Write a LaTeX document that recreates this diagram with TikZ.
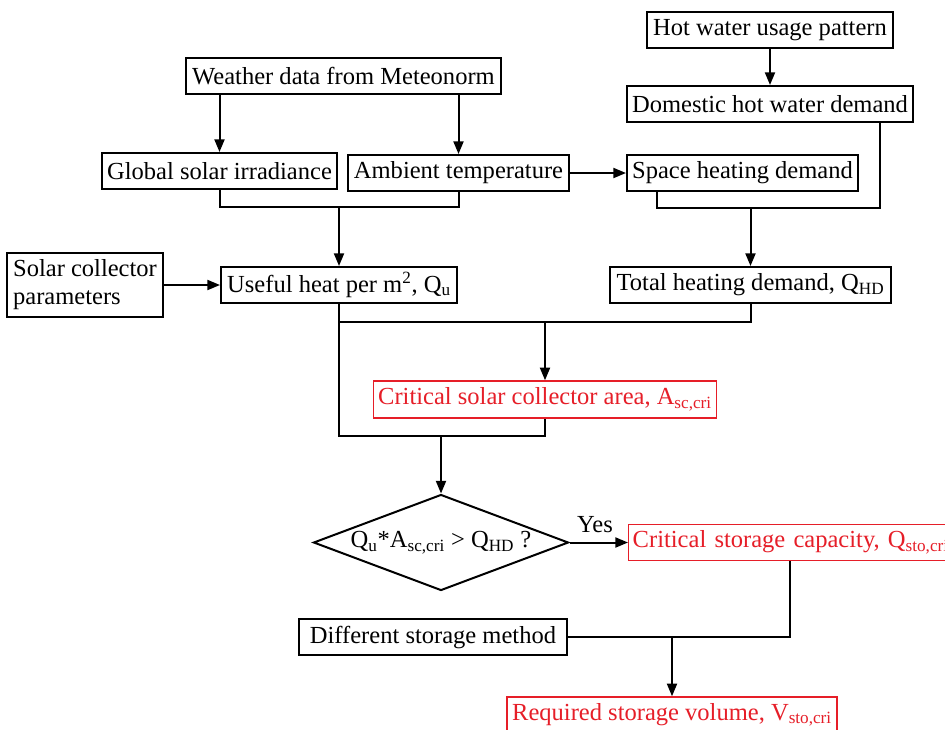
\documentclass[tikz,border=0pt]{standalone}
\usepackage{fontspec}
\setmainfont{Liberation Serif}
\usetikzlibrary{arrows.meta,shapes.geometric}
\definecolor{cred}{RGB}{230,30,40}
\begin{document}
\begin{tikzpicture}[x=0.75pt,y=-0.75pt,
  font=\fontsize{18.4}{21}\selectfont,
  wh/.style 2 args={minimum width=#1*0.75pt, minimum height=#2*0.75pt},
  box/.style={draw=black, line width=1.5pt, inner sep=0pt, rectangle},
  rbox/.style={draw=cred, text=cred, line width=1.1pt, inner sep=0pt, rectangle},
  line/.style={line width=1.5pt},
  arr/.style={line, -{Triangle[length=9.5pt,width=7.5pt]}},
]
\clip (0,0) rectangle (945,729);
\fill[white] (0,0) rectangle (945,729);

\node[box, wh={246}{36}] (hot) at (770,30) {Hot water usage pattern};
\node[box, wh={286}{36}] (dom) at (770,104) {Domestic hot water demand};
\node[box, wh={315}{36}] (wea) at (343.5,76) {Weather data from Meteonorm};
\node[box, wh={235}{36}] (glo) at (219.5,171) {Global solar irradiance};
\node[box, wh={221}{36}] (amb) at (458.5,173) {Ambient temperature};
\node[box, wh={231}{36}] (spa) at (742.5,173) {Space heating demand};
\node[box, wh={156}{64}, align=left] (sol) at (85,285) {Solar collector\\parameters};
\node[box, wh={236}{36}] (use) at (339,285) {Useful heat per m\textsuperscript{2}, Q\textsubscript{u}};
\node[box, wh={281}{36}] (tot) at (750.5,285) {Total heating demand, Q\textsubscript{HD}};
\node[rbox, wh={343}{37}] (csa) at (545,399.5) {Critical solar collector area, A\textsubscript{sc,cri}};
\node[draw, diamond, line width=1.5pt, inner sep=0pt, wh={255}{96},
  label=center:{Q\textsubscript{u}*A\textsubscript{sc,cri} > Q\textsubscript{HD} ?}] (dia) at (441,542.5) {};
\node[rbox, anchor=west, minimum height=36*0.75pt, inner xsep=3pt,
  text width=320*0.75pt, align=left] (cst) at (628,542.5) {Critical storage capacity, Q\textsubscript{sto,cri}};
\node[box, wh={268}{36}] (dif) at (433,637) {Different storage method};
\node[rbox, wh={330}{36}] (req) at (672,715) {Required storage volume, V\textsubscript{sto,cri}};
\node (yes) at (595,525) {Yes};

\coordinate (j1) at (339,207);
\coordinate (sx) at (657,0);
\coordinate (dx) at (880,0);
\coordinate (j2) at (750.5,208);
\coordinate (j3) at (545,322);
\coordinate (j4) at (441,436);
\coordinate (cx) at (790,0);
\coordinate (j5) at (672,637);

\draw[arr] (hot) -- (dom);
\draw[arr] (wea.south -| glo.north) -- (glo.north);
\draw[arr] (wea.south -| amb.north) -- (amb.north);
\draw[arr] (amb.east) -- (amb.east -| spa.west);
\draw[line] (glo.south) |- (j1) -| (amb.south);
\draw[arr] (j1) -- (use.north);
\draw[line] (spa.south -| sx) |- (j2) -| (dom.south -| dx);
\draw[arr] (j2) -- (tot.north);
\draw[arr] (sol.east) -- (use.west);
\draw[line] (use.south) |- (j3) -| (tot.south);
\draw[arr] (j3) -- (csa.north);
\draw[line] (use.south) |- (j4) -| (csa.south);
\draw[arr] (j4) -- (dia.north);
\draw[arr] (dia.east) -- (cst.west);
\draw[line] (cst.south -| cx) |- (dif.east);
\draw[arr] (j5) -- (req.north);
\end{tikzpicture}
\end{document}
